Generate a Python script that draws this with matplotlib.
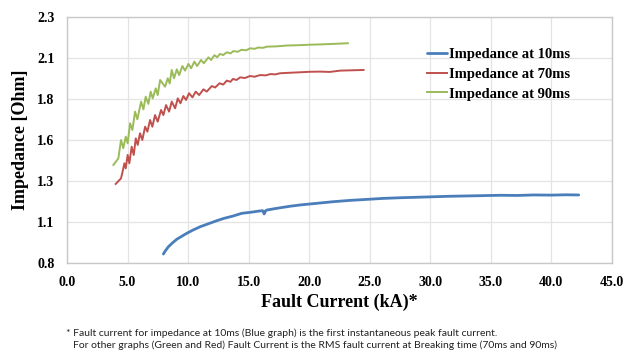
import matplotlib
matplotlib.use('Agg')
import matplotlib.pyplot as plt

# values
blue_x = [7.96, 8.1, 8.37, 8.7, 9.07, 9.5, 9.89, 10.4, 10.99, 11.7, 12.37, 13.0, 13.74, 14.43,
          15.12, 15.6, 16.09, 16.2, 16.28, 16.4, 16.5, 17.2, 17.88, 18.5, 19.25, 20.63, 22.0,
          23.39, 24.77, 26.1, 27.52, 28.9, 30.27, 31.6, 33.03, 34.4, 35.78, 37.2, 38.54, 40.0,
          41.2, 42.26]
blue_y = [0.855, 0.872, 0.899, 0.922, 0.945, 0.964, 0.981, 1.001, 1.021, 1.040, 1.058, 1.073,
          1.087, 1.103, 1.109, 1.114, 1.119, 1.117, 1.099, 1.118, 1.123, 1.132, 1.140, 1.147,
          1.154, 1.164, 1.174, 1.182, 1.188, 1.194, 1.198, 1.201, 1.204, 1.207, 1.209, 1.211,
          1.213, 1.212, 1.215, 1.214, 1.216, 1.215]

red_x = [4.02, 4.46, 4.60, 4.74, 4.85, 5.01, 5.15, 5.34, 5.51, 5.68, 5.84, 6.03, 6.22, 6.45,
         6.64, 6.86, 7.05, 7.27, 7.49, 7.77, 7.96, 8.18, 8.43, 8.65, 8.93, 9.15, 9.37, 9.61,
         9.83, 10.08, 10.36, 10.63, 10.91, 11.27, 11.54, 11.96, 12.23, 12.6, 12.9, 13.2, 13.5,
         13.7, 14.0, 14.3, 14.7, 15.1, 15.5, 15.95, 16.4, 16.8, 17.2, 17.6, 18.4, 19.25, 20.1,
         20.91, 21.7, 22.56, 23.5, 24.49]
red_y = [1.282, 1.316, 1.360, 1.408, 1.377, 1.459, 1.408, 1.509, 1.459, 1.560, 1.520, 1.591,
         1.550, 1.631, 1.601, 1.672, 1.631, 1.702, 1.662, 1.733, 1.702, 1.763, 1.723, 1.784,
         1.743, 1.804, 1.774, 1.818, 1.794, 1.835, 1.810, 1.845, 1.824, 1.859, 1.845, 1.879,
         1.870, 1.896, 1.888, 1.912, 1.905, 1.922, 1.916, 1.932, 1.928, 1.940, 1.936, 1.946,
         1.944, 1.952, 1.950, 1.957, 1.960, 1.963, 1.966, 1.967, 1.965, 1.973, 1.975, 1.977]

green_x = [3.83, 4.24, 4.46, 4.65, 4.85, 5.01, 5.21, 5.40, 5.62, 5.81, 6.12, 6.31, 6.50, 6.72,
           6.91, 7.08, 7.33, 7.49, 7.69, 8.10, 8.32, 8.48, 8.65, 8.84, 9.07, 9.26, 9.53, 9.75,
           10.03, 10.25, 10.52, 10.74, 11.07, 11.30, 11.68, 11.90, 12.17, 12.4, 12.64, 12.9,
           13.2, 13.5, 13.74, 14.1, 14.4, 14.8, 15.12, 15.5, 15.8, 16.2, 16.5, 17.3, 18.16,
           19.1, 20.08, 21.0, 22.0, 23.2]
green_y = [1.398, 1.438, 1.550, 1.500, 1.570, 1.530, 1.652, 1.611, 1.723, 1.676, 1.784, 1.737,
           1.814, 1.770, 1.845, 1.804, 1.865, 1.824, 1.916, 1.875, 1.926, 1.895, 1.977, 1.926,
           1.981, 1.946, 2.001, 1.973, 2.014, 1.987, 2.028, 2.001, 2.038, 2.018, 2.054, 2.038,
           2.067, 2.055, 2.075, 2.068, 2.085, 2.078, 2.092, 2.088, 2.100, 2.097, 2.109, 2.106,
           2.114, 2.112, 2.119, 2.121, 2.126, 2.128, 2.131, 2.133, 2.136, 2.140]

x_ticks = [0, 5, 10, 15, 20, 25, 30, 35, 40, 45]
y_ticks = [0.8, 1.05, 1.3, 1.55, 1.8, 2.05, 2.3]
y_tick_labels = ['0.8', '1.1', '1.3', '1.6', '1.8', '2.1', '2.3']

serif = 'Liberation Serif'

fig = plt.figure(figsize=(6.25, 3.54), dpi=100)
ax = fig.add_axes([0.1072, 0.257, 0.8718, 0.695])

ax.plot(blue_x, blue_y, color='#4A7EBB', lw=2.0, label='Impedance at 10ms', solid_capstyle='round')
ax.plot(red_x, red_y, color='#C0504D', lw=1.4, label='Impedance at 70ms')
ax.plot(green_x, green_y, color='#9BBB59', lw=1.4, label='Impedance at 90ms')

ax.set_xlim(0, 45)
ax.set_ylim(0.8, 2.3)
ax.set_xticks(x_ticks)
ax.set_xticklabels(['%.1f' % v for v in x_ticks])
ax.set_yticks(y_ticks)
ax.set_yticklabels(y_tick_labels)
ax.tick_params(length=0, pad=9, labelsize=10)
for lbl in ax.get_xticklabels() + ax.get_yticklabels():
    lbl.set_fontfamily(serif)
    lbl.set_fontweight('bold')

ax.grid(True, color='#E4E4E4', lw=0.9)
ax.set_axisbelow(True)
for s in ax.spines.values():
    s.set_color('#C8C8C8')
    s.set_linewidth(1)

ax.set_xlabel('Fault Current (kA)*', fontfamily=serif, fontweight='bold', fontsize=13, labelpad=4)
ax.set_ylabel('Impedance [Ohm]', fontfamily=serif, fontweight='bold', fontsize=13, labelpad=6)

leg = fig.legend(loc='upper left', bbox_to_anchor=(0.683, 0.865), frameon=False,
                 borderpad=0, borderaxespad=0, handlelength=1.4, handletextpad=0.1,
                 labelspacing=0.45, prop={'family': serif, 'weight': 'bold', 'size': 10.5})

fig.text(0.105, 0.059, '* Fault current for impedance at 10ms (Blue graph) is the first instantaneous peak fault current.',
         fontfamily='Lato', fontsize=7.5, va='center', ha='left', color='#222222')
fig.text(0.117, 0.025, 'For other graphs (Green and Red) Fault Current is the RMS fault current at Breaking time (70ms and 90ms)',
         fontfamily='Lato', fontsize=7.5, va='center', ha='left', color='#222222')

fig.savefig('out.png', dpi=100)
